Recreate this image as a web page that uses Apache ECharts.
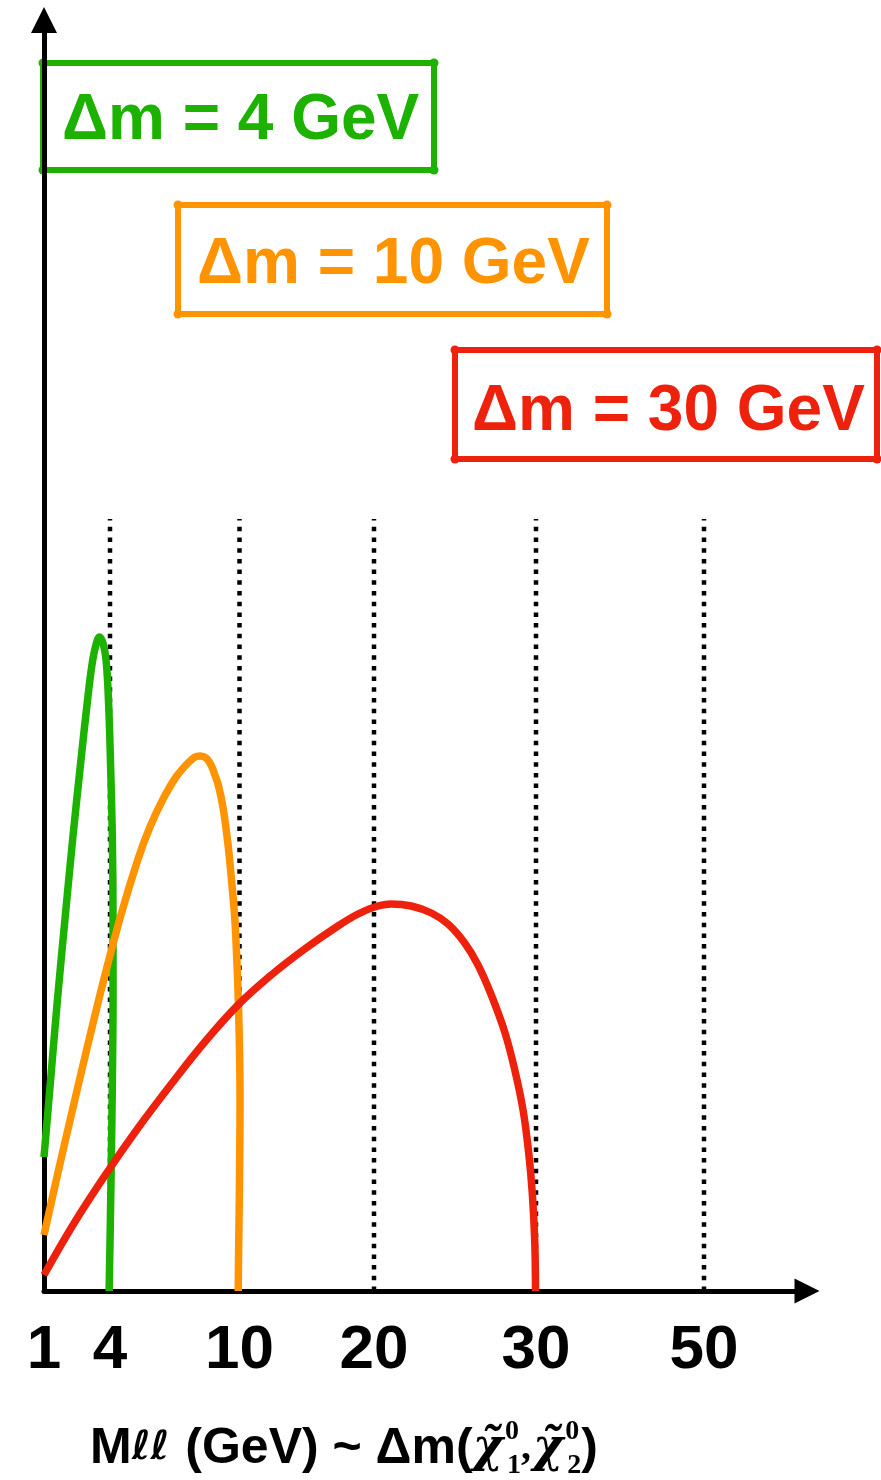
<!DOCTYPE html>
<html>
<head>
<meta charset="utf-8">
<script src="https://cdn.jsdelivr.net/npm/echarts@6/dist/echarts.min.js"></script>
<style>
  html, body { margin: 0; padding: 0; background: #ffffff; }
  #chart { width: 881px; height: 1480px; }
</style>
</head>
<body>
<div id="chart"></div>
<script>
// Schematic M_ll axis: tick values (GeV) and where each one sits along the axis
const tickGeV = [1, 4, 10, 20, 30, 50];
const tickLabels = ['1', '4', '10', '20', '30', '50'];
const tickPos = [0, 6.6, 19.55, 33.0, 49.2, 66.0];
const axisEnd = 76.3;   // x axis length in axis units
const yTop = 127.1;     // y axis length in arbitrary height units
const guideTop = 77.2;  // height of the dotted guides

// Mass splittings of the three scenarios
const deltaM = [4, 10, 30];

// Dilepton mass spectra: [M_ll (GeV), arbitrary height]
const spectrum4 = [
  [1.00, 13.4], [1.30, 21.1], [1.61, 29.1], [1.95, 37.1], [2.30, 45.1],
  [2.68, 53.1], [2.98, 59.1], [3.18, 62.6], [3.36, 64.6], [3.52, 65.4],
  [3.68, 64.8], [3.82, 63.1], [3.93, 59.1], [4.02, 53.1], [4.11, 45.1],
  [4.14, 37.1], [4.14, 29.1], [4.11, 21.1], [4.06, 13.1], [4.01, 6.1],
  [3.96, 0]
];
const spectrum10 = [
  [1.00, 5.6], [1.62, 11.7], [2.24, 17.6], [3.00, 24.7], [3.76, 31.5],
  [4.52, 37.7], [5.30, 43.2], [5.85, 46.4], [6.46, 49.2], [7.06, 51.4],
  [7.61, 52.8], [7.94, 53.4], [8.17, 53.5], [8.45, 53.3], [8.68, 52.6],
  [8.86, 51.6], [9.03, 50.5], [9.24, 48.3], [9.47, 44.6], [9.63, 41.1],
  [9.78, 37.3], [9.86, 33.9], [9.93, 30.1], [10.00, 24.1], [10.04, 19.1],
  [10.02, 14.1], [9.99, 9.1], [9.96, 4.1], [9.94, 0]
];
const spectrum30 = [
  [1.00, 1.6], [2.40, 6.9], [3.91, 12.0], [5.30, 16.3], [6.84, 20.7],
  [8.39, 24.9], [9.93, 28.6], [12.36, 31.6], [14.85, 34.2], [17.32, 36.5],
  [18.81, 37.7], [20.04, 38.4], [21.07, 38.7], [22.30, 38.5], [23.54, 37.8],
  [24.57, 36.7], [25.60, 34.8], [26.42, 32.6], [27.24, 29.6], [28.07, 25.9],
  [28.69, 22.1], [29.20, 18.1], [29.55, 13.8], [29.77, 9.8], [29.92, 5.1],
  [29.97, 0]
];

const colors = ['#1DB100', '#FF9300', '#EE220C'];
const spectra = [spectrum4, spectrum10, spectrum30];

// Map a mass in GeV onto the piecewise schematic axis
function toPos(g) {
  for (let i = 0; i < tickGeV.length - 1; i++) {
    if (g <= tickGeV[i + 1] || i === tickGeV.length - 2) {
      const t = (g - tickGeV[i]) / (tickGeV[i + 1] - tickGeV[i]);
      return tickPos[i] + t * (tickPos[i + 1] - tickPos[i]);
    }
  }
  return tickPos[0];
}

const chart = echarts.init(document.getElementById('chart'), null, { renderer: 'canvas' });

const guideSeries = tickGeV.slice(1).map(function (g) {
  return {
    type: 'line',
    silent: true,
    symbol: 'none',
    z: 1,
    data: [[toPos(g), 0], [toPos(g), guideTop]],
    lineStyle: { color: '#000', width: 4.5, type: [4.5, 6.2], cap: 'butt' }
  };
});

const curveSeries = spectra.map(function (pts, i) {
  return {
    type: 'line',
    name: 'Δm = ' + deltaM[i] + ' GeV',
    symbol: 'none',
    smooth: 0.4,
    z: 3 + i,
    data: pts.map(function (p) { return [toPos(p[0]), p[1]]; }),
    lineStyle: { color: colors[i], width: 7.5, cap: 'butt', join: 'round' }
  };
});

// Framed labels for the three scenarios
function labelBox(x0, y0, x1, y1, color, text, tx, ty) {
  const lw = 6;
  const rx = x0 + lw / 2, ry = y0 + lw / 2, rw = x1 - x0 - lw, rh = y1 - y0 - lw;
  const corners = [[rx, ry], [rx + rw, ry], [rx, ry + rh], [rx + rw, ry + rh]];
  return {
    type: 'group',
    children: [
      {
        type: 'rect',
        shape: { x: rx, y: ry, width: rw, height: rh, r: 3 },
        style: { fill: 'none', stroke: color, lineWidth: lw, lineJoin: 'round' }
      },
      ...corners.map(function (c) {
        return { type: 'circle', shape: { cx: c[0], cy: c[1], r: 4.5 }, style: { fill: color } };
      }),
      {
        type: 'text',
        x: tx, y: ty,
        style: {
          text: text, fill: color, fontSize: 64, fontWeight: 'bold',
          fontFamily: '"Liberation Sans", Arial, sans-serif', verticalAlign: 'middle', align: 'left'
        }
      }
    ]
  };
}

const option = {
  backgroundColor: '#ffffff',
  animation: false,
  grid: { left: 44, right: 74, top: 20, bottom: 189 },
  title: {
    left: 90, top: 1418, padding: 0,
    text: '{m|M}{l|ℓℓ}{m| (GeV) ~ Δm(}{c|χ̃}{sp|0}{sb|1}{cm|,}{c|χ̃}{sp|0}{sb|2}{m|)}',
    textStyle: {
      rich: {
        m: { fontSize: 50, fontWeight: 'bold', fontFamily: '"Liberation Sans", Arial, sans-serif', color: '#000', lineHeight: 62 },
        l: { fontSize: 40, fontWeight: 'bold', fontFamily: '"DejaVu Sans", sans-serif', color: '#000', lineHeight: 62, padding: [0, 2, 0, 0] },
        c: { fontSize: 46, fontStyle: 'italic', fontFamily: '"DejaVu Serif", "Liberation Serif", serif', color: '#000', lineHeight: 62 },
        cm: { fontSize: 40, fontFamily: '"Liberation Serif", serif', color: '#000', lineHeight: 62, padding: [0, 2, 0, 0] },
        sp: { fontSize: 28, fontFamily: '"Liberation Serif", serif', fontWeight: 'bold', color: '#000', lineHeight: 42, verticalAlign: 'top', width: 0, padding: [0, 0, 0, 2] },
        sb: { fontSize: 28, fontFamily: '"Liberation Serif", serif', fontWeight: 'bold', color: '#000', lineHeight: 36, verticalAlign: 'bottom', padding: [0, 0, 0, 2] }
      }
    }
  },
  xAxis: {
    type: 'value',
    min: 0,
    max: axisEnd,
    splitLine: { show: false },
    axisTick: { show: false },
    axisLine: {
      show: true,
      symbol: ['none', 'triangle'],
      symbolSize: [25, 25],
      lineStyle: { color: '#000', width: 5 }
    },
    axisLabel: {
      customValues: tickPos,
      formatter: function (v) {
        const i = tickPos.findIndex(function (p) { return Math.abs(p - v) < 1e-6; });
        return i >= 0 ? tickLabels[i] : '';
      },
      fontSize: 62,
      fontWeight: 'bold',
      fontFamily: '"Liberation Sans", Arial, sans-serif',
      color: '#000',
      margin: 29
    }
  },
  yAxis: {
    type: 'value',
    min: 0,
    max: yTop,
    splitLine: { show: false },
    axisTick: { show: false },
    axisLabel: { show: false },
    axisLine: {
      show: true,
      symbol: ['none', 'triangle'],
      symbolSize: [26, 26],
      lineStyle: { color: '#000', width: 5 }
    }
  },
  graphic: [
    labelBox(40, 60, 437, 173, colors[0], 'Δm = ' + deltaM[0] + ' GeV', 62, 121),
    labelBox(175, 202, 610, 317, colors[1], 'Δm = ' + deltaM[1] + ' GeV', 197, 265),
    labelBox(452, 347, 880, 462, colors[2], 'Δm = ' + deltaM[2] + ' GeV', 472, 412)
  ],
  series: guideSeries.concat(curveSeries)
};

chart.setOption(option);
</script>
</body>
</html>
